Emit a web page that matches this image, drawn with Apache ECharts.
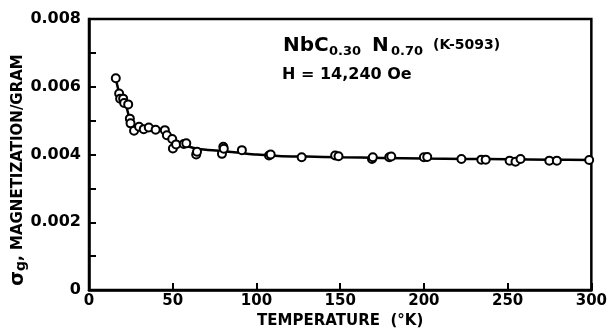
<!DOCTYPE html>
<html>
<head>
<meta charset="utf-8">
<script src="https://cdn.jsdelivr.net/npm/echarts@6/dist/echarts.min.js"></script>
<style>
html,body{margin:0;padding:0;background:#fff;}
#c{width:610px;height:334px;}
</style>
</head>
<body>
<div id="c"></div>
<script>
// Measured points: temperature (K) and sigma_g (magnetization per gram)
const temps = [16, 18.0, 18.6, 20.4, 21.0, 23.4, 24.4, 24.8, 26.9, 29.9, 32.7, 35.7, 39.8, 45.3, 46.5, 49.7, 50.1, 52.0, 56.6, 58.1, 64.0, 64.5, 79.4, 80.2, 80.5, 91.3, 107.5, 108.5, 127, 147, 149, 169, 169.5, 179.3, 180.5, 200, 202, 222.4, 234.3, 236.9, 251.2, 254.7, 257.7, 274.9, 279.4, 298.7];
const sigma = [0.00625, 0.00580, 0.00565, 0.00565, 0.00552, 0.00548, 0.00506, 0.00492, 0.00470, 0.00482, 0.00475, 0.00480, 0.00473, 0.00472, 0.00457, 0.00446, 0.00418, 0.00430, 0.00431, 0.00433, 0.00400, 0.00408, 0.00402, 0.00423, 0.00417, 0.00413, 0.00397, 0.00400, 0.00392, 0.00397, 0.00395, 0.00387, 0.00392, 0.00392, 0.00394, 0.00392, 0.00393, 0.00387, 0.00385, 0.00385, 0.00382, 0.00379, 0.00387, 0.00382, 0.00382, 0.00384];
// Hand-drawn fitted curve
const curveT = [16, 18.5, 22, 24.5, 26.5, 28, 30, 35, 40, 45, 47, 50, 53, 56, 60, 64, 70, 80, 90, 100, 113, 130, 150, 175, 200, 225, 250, 275, 300];
const curveV = [0.00625, 0.00575, 0.00545, 0.00500, 0.00475, 0.00474, 0.00480, 0.00480, 0.00478, 0.00472, 0.00462, 0.00442, 0.00434, 0.00429, 0.00423, 0.00418, 0.00414, 0.00410, 0.00405, 0.00400, 0.00396, 0.00394, 0.00392, 0.00390, 0.00388, 0.00387, 0.00386, 0.00385, 0.00384];
const xTicks = [0, 50, 100, 150, 200, 250, 300];
const yTicks = ['0', '0.002', '0.004', '0.006', '0.008'];

const FONT = 'DejaVu Sans';
const chart = echarts.init(document.getElementById('c'));
chart.setOption({
  backgroundColor: '#fff',
  animation: false,
  grid: {left: 89, right: 16, top: 19, bottom: 42, show: true, borderColor: '#000', borderWidth: 2.5, backgroundColor: 'transparent'},
  xAxis: {
    type: 'value', min: 0, max: 300, interval: 50,
    axisLine: {show: true, lineStyle: {color: '#000', width: 2.5}},
    axisTick: {show: true, inside: true, length: 7, lineStyle: {color: '#000', width: 2}},
    axisLabel: {color: '#000', fontFamily: FONT, fontWeight: 'bold', fontSize: 15, margin: 4,
      formatter: v => String(xTicks[Math.round(v / 50)])},
    splitLine: {show: false},
    name: 'TEMPERATURE  (°K)', nameLocation: 'middle', nameGap: 23,
    nameTextStyle: {color: '#000', fontFamily: FONT, fontWeight: 'bold', fontSize: 15}
  },
  yAxis: {
    type: 'value', min: 0, max: 0.008, interval: 0.002,
    axisLine: {show: true, lineStyle: {color: '#000', width: 2.5}},
    axisTick: {show: true, inside: true, length: 7, lineStyle: {color: '#000', width: 2}},
    minorTick: {show: true, splitNumber: 2, length: 7, lineStyle: {color: '#000', width: 2}},
    axisLabel: {color: '#000', fontFamily: FONT, fontWeight: 'bold', fontSize: 16, margin: 8,
      formatter: v => yTicks[Math.round(v / 0.002)]},
    splitLine: {show: false}
  },
  graphic: [
    {type: 'text', left: 283, top: 36, style: {text: 'NbC', font: 'bold 20px "DejaVu Sans"', fill: '#000'}},
    {type: 'text', left: 329, top: 45, style: {text: '0.30', font: 'bold 13px "DejaVu Sans"', fill: '#000'}},
    {type: 'text', left: 372, top: 36, style: {text: 'N', font: 'bold 20px "DejaVu Sans"', fill: '#000'}},
    {type: 'text', left: 391, top: 45, style: {text: '0.70', font: 'bold 13px "DejaVu Sans"', fill: '#000'}},
    {type: 'text', left: 433, top: 38, style: {text: '(K-5093)', font: 'bold 14px "DejaVu Sans"', fill: '#000'}},
    {type: 'text', left: 282, top: 67, style: {text: 'H = 14,240 Oe', font: 'bold 16px "DejaVu Sans"', fill: '#000'}},
    {type: 'text', x: 18, y: 170, rotation: Math.PI / 2, style: {
      text: '{s|σ}{g|g}{t|, MAGNETIZATION/GRAM}', align: 'center', verticalAlign: 'middle',
      rich: {
        s: {fontFamily: FONT, fontWeight: 'bold', fontSize: 19, fill: '#000'},
        g: {fontFamily: FONT, fontWeight: 'bold', fontSize: 14, fill: '#000', padding: [7, 0, 0, 0]},
        t: {fontFamily: FONT, fontWeight: 'bold', fontSize: 15, fill: '#000'}
      }}}
  ],
  series: [
    {type: 'line', data: curveT.map((t, i) => [t, curveV[i]]), smooth: 0.3, showSymbol: false,
      lineStyle: {color: '#000', width: 2.5}, z: 2},
    {type: 'scatter', data: temps.map((t, i) => [t, sigma[i]]), symbol: 'circle', symbolSize: 8,
      itemStyle: {color: '#fff', opacity: 1, borderColor: '#000', borderWidth: 2}, z: 3}
  ]
});
</script>
</body>
</html>
